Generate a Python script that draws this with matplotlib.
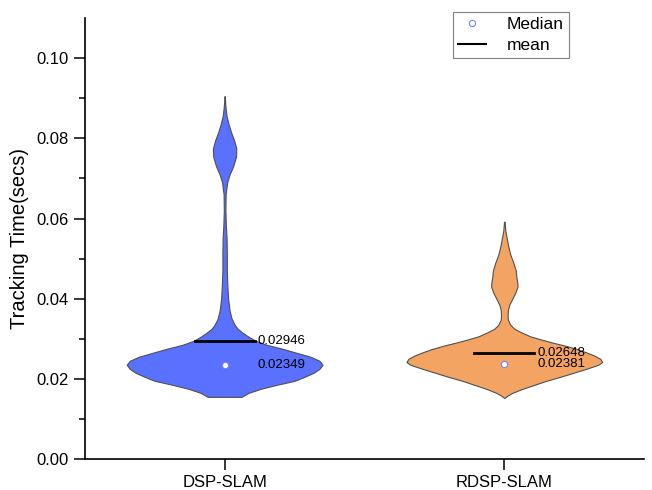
import numpy as np
import matplotlib.pyplot as plt

plt.rcParams['font.family'] = ['Liberation Sans', 'DejaVu Sans']

methods = ['DSP-SLAM', 'RDSP-SLAM']
means = [0.02946, 0.02648]
medians = [0.02349, 0.02381]
colors = ['#5a70ff', '#f4a462']

# density profile of tracking time for each method (time in secs, relative density)
dsp_time = [0.0155, 0.0165, 0.0175, 0.0185, 0.0195, 0.0205, 0.0215, 0.0225, 0.0235,
            0.0245, 0.0255, 0.0265, 0.0275, 0.0285, 0.0295, 0.0305, 0.0315, 0.0325,
            0.0335, 0.0350, 0.0370, 0.0400, 0.0430, 0.0470, 0.0510, 0.0550, 0.0580,
            0.0620, 0.0660, 0.0690, 0.0710, 0.0730, 0.0755, 0.0775, 0.0795, 0.0815,
            0.0835, 0.0855, 0.0875, 0.0890, 0.0905]
dsp_dens = [17, 24, 36, 52, 70, 80, 89, 95, 98,
            95, 86, 72, 58, 42, 31, 24, 18, 13,
            10, 7, 5, 3.5, 2.8, 2.2, 2.2, 2.0, 1.3,
            0.8, 1.0, 2.5, 5, 8.5, 11.5, 11.7, 9.5, 6.5,
            4, 2, 1, 0.5, 0.3]

rdsp_time = [0.0152, 0.0158, 0.0165, 0.0175, 0.0185, 0.0195, 0.0205, 0.0215, 0.0225,
             0.0235, 0.0242, 0.0250, 0.0258, 0.0266, 0.0274, 0.0282, 0.0290, 0.0298,
             0.0306, 0.0316, 0.0325, 0.0335, 0.0348, 0.0360, 0.0372, 0.0385, 0.0400,
             0.0415, 0.0430, 0.0440, 0.0455, 0.0470, 0.0490, 0.0510, 0.0530, 0.0550,
             0.0570, 0.0592]
rdsp_dens = [0, 3, 8, 18, 30, 42, 56, 69, 82,
             94, 98, 96, 90, 82, 73, 62, 49, 37,
             26, 17, 10, 6, 3.5, 3.3, 3.6, 5, 8,
             11, 13.2, 13, 12, 11.5, 9, 6, 4, 2.5,
             1, 0.3]

profiles = [(dsp_time, dsp_dens), (rdsp_time, rdsp_dens)]

fig = plt.figure(figsize=(6.52, 4.90), dpi=100)
ax = fig.add_axes([0.130, 0.0633, 0.858, 0.8997])

half_width = 0.35
for i, (t, d) in enumerate(profiles):
    pos = i + 1
    t = np.array(t)
    d = np.array(d, dtype=float)
    w = d / d.max() * half_width
    ax.fill_betweenx(t, pos - w, pos + w, facecolor=colors[i],
                     edgecolor='#505050', linewidth=0.8, zorder=2)
    ax.plot([pos - 0.107, pos + 0.107], [means[i], means[i]], color='black',
            linewidth=2, zorder=3)
    ax.plot(pos, medians[i], 'o', markersize=4.5, markerfacecolor='white',
            markeredgecolor='#8080ff', markeredgewidth=0.8, zorder=4)
    ax.text(pos + 0.118, means[i], '%.5f' % means[i], fontsize=9.5, va='center', zorder=5)
    ax.text(pos + 0.118, medians[i], '%.5f' % medians[i], fontsize=9.5, va='center', zorder=5)

# legend entries
ax.plot([], [], 'o', markersize=4.5, markerfacecolor='white', markeredgecolor='#8080ff',
        markeredgewidth=0.8, label='Median')
ax.plot([], [], color='black', linewidth=1.5, label='mean')
leg = ax.legend(loc='upper right', bbox_to_anchor=(569 / 652, 1 - 12 / 490),
                bbox_transform=fig.transFigure, fontsize=12.5, fancybox=False,
                edgecolor='#808080', framealpha=1, borderaxespad=0,
                handlelength=1.6, handletextpad=1.2, borderpad=0.3, labelspacing=0.3)
leg.get_frame().set_linewidth(0.8)

ax.set_xlim(0.5, 2.5)
ax.set_ylim(0, 0.11)
ax.set_xticks([1, 2])
ax.set_xticklabels(methods)
ax.set_yticks(np.arange(0, 0.101, 0.02))
ax.set_yticks(np.arange(0.01, 0.11, 0.02), minor=True)
ax.yaxis.set_major_formatter(plt.FormatStrFormatter('%.2f'))
ax.tick_params(axis='both', which='major', length=8, width=1.1, labelsize=12)
ax.tick_params(axis='y', which='minor', length=4, width=1.1)
ax.set_ylabel('Tracking Time(secs)', fontsize=14.5, labelpad=5)
for s in ['top', 'right']:
    ax.spines[s].set_visible(False)
for s in ['left', 'bottom']:
    ax.spines[s].set_linewidth(1.2)

fig.savefig('out.png', dpi=100)
